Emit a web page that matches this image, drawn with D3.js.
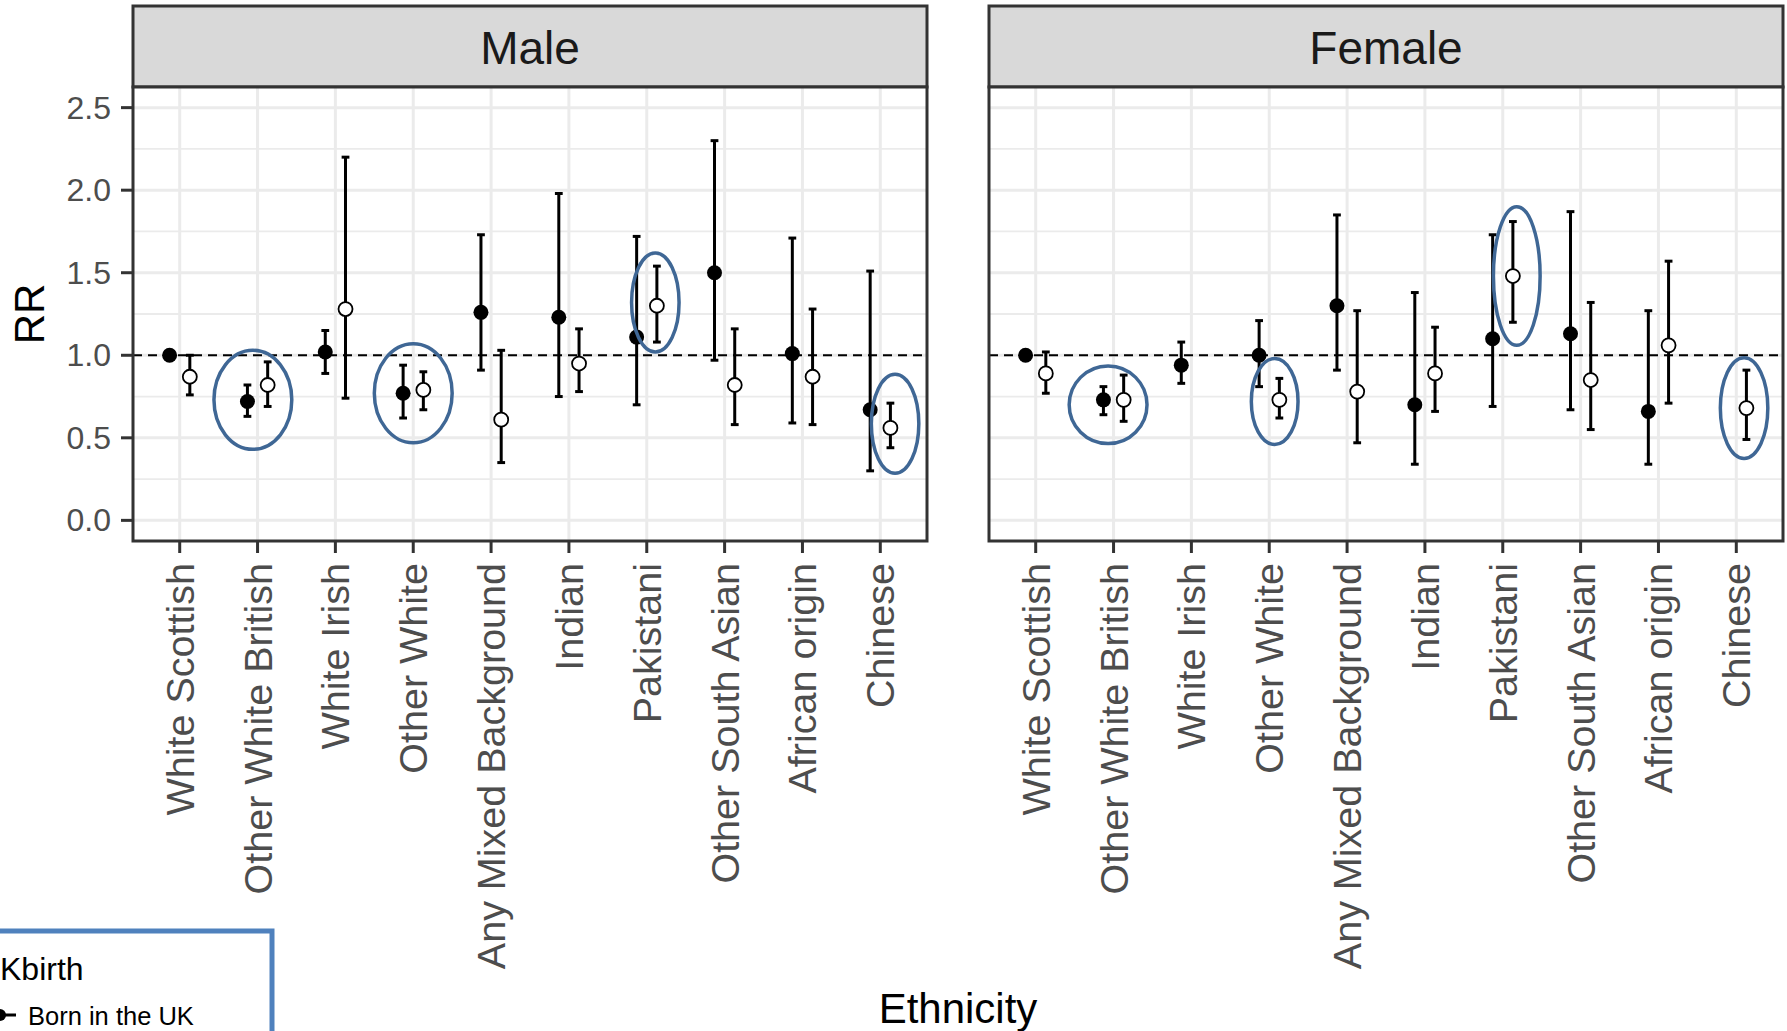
<!DOCTYPE html>
<html>
<head>
<meta charset="utf-8">
<script src="https://cdn.jsdelivr.net/npm/d3@7"></script>
<style>
  body { margin: 0; background: #fff; }
  text { font-family: "Liberation Sans", Arial, sans-serif; }
</style>
</head>
<body>
<svg width="1787" height="1031"></svg>
<script>
// categories on the x axis (same in both panels)
var categories = ["White Scottish", "Other White British", "White Irish", "Other White",
  "Any Mixed Background", "Indian", "Pakistani", "Other South Asian", "African origin", "Chinese"];
var sexes = ["Male", "Female"];
var yTicks = [0, 0.5, 1, 1.5, 2, 2.5];

// Male, born in the UK (filled)
var maleUkRR = [1.00, 0.72, 1.02, 0.77, 1.26, 1.23, 1.11, 1.50, 1.01, 0.67];
var maleUkLo = [null, 0.63, 0.89, 0.62, 0.91, 0.75, 0.70, 0.97, 0.59, 0.30];
var maleUkHi = [null, 0.82, 1.15, 0.94, 1.73, 1.98, 1.72, 2.30, 1.71, 1.51];
// Male, born outside the UK (open)
var maleNonRR = [0.87, 0.82, 1.28, 0.79, 0.61, 0.95, 1.30, 0.82, 0.87, 0.56];
var maleNonLo = [0.76, 0.69, 0.74, 0.67, 0.35, 0.78, 1.08, 0.58, 0.58, 0.44];
var maleNonHi = [1.00, 0.96, 2.20, 0.90, 1.03, 1.16, 1.54, 1.16, 1.28, 0.71];
// Female, born in the UK (filled)
var femUkRR = [1.00, 0.73, 0.94, 1.00, 1.30, 0.70, 1.10, 1.13, 0.66, null];
var femUkLo = [null, 0.64, 0.83, 0.81, 0.91, 0.34, 0.69, 0.67, 0.34, null];
var femUkHi = [null, 0.81, 1.08, 1.21, 1.85, 1.38, 1.73, 1.87, 1.27, null];
// Female, born outside the UK (open)
var femNonRR = [0.89, 0.73, null, 0.73, 0.78, 0.89, 1.48, 0.85, 1.06, 0.68];
var femNonLo = [0.77, 0.60, null, 0.62, 0.47, 0.66, 1.20, 0.55, 0.71, 0.49];
var femNonHi = [1.02, 0.88, null, 0.86, 1.27, 1.17, 1.81, 1.32, 1.57, 0.91];

// hand-drawn highlight ellipses: panel, category, shift (in steps), centre RR, half-width (steps), half-height (RR)
var highlightSex = ["Male", "Male", "Male", "Male", "Female", "Female", "Female", "Female"];
var highlightCat = ["Other White British", "Other White", "Pakistani", "Chinese",
  "Other White British", "Other White", "Pakistani", "Chinese"];
var highlightShift = [-0.06, 0, 0.11, 0.19, -0.07, 0.07, 0.18, 0.10];
var highlightRR = [0.73, 0.77, 1.32, 0.585, 0.70, 0.72, 1.48, 0.68];
var highlightW = [0.50, 0.50, 0.305, 0.305, 0.50, 0.30, 0.30, 0.305];
var highlightH = [0.30, 0.30, 0.30, 0.30, 0.235, 0.26, 0.42, 0.305];

var series = [
  { sex: "Male", uk: true, rr: maleUkRR, lo: maleUkLo, hi: maleUkHi },
  { sex: "Male", uk: false, rr: maleNonRR, lo: maleNonLo, hi: maleNonHi },
  { sex: "Female", uk: true, rr: femUkRR, lo: femUkLo, hi: femUkHi },
  { sex: "Female", uk: false, rr: femNonRR, lo: femNonLo, hi: femNonHi }
];

var svg = d3.select("svg");

// layout
var panelTop = 87, panelBottom = 541, stripTop = 6;
var panelX = { Male: [133, 927], Female: [989, 1783] };
var dodge = 0.13;   // in steps

var y = d3.scaleLinear()
  .domain([-0.125, 2.625])
  .range([panelBottom, panelTop]);

var xScales = {};
sexes.forEach(function(s) {
  xScales[s] = d3.scalePoint()
    .domain(categories)
    .range(panelX[s])
    .padding(0.6);
});

var grid = "#ebebeb", dark = "#333333", blue = "#3f6795";

sexes.forEach(function(s) {
  var x = xScales[s];
  var x0 = panelX[s][0], x1 = panelX[s][1];
  var g = svg.append("g");

  // strip
  g.append("rect")
    .attr("x", x0).attr("y", stripTop)
    .attr("width", x1 - x0).attr("height", panelTop - stripTop)
    .attr("fill", "#d9d9d9").attr("stroke", dark).attr("stroke-width", 3);
  g.append("text")
    .attr("x", (x0 + x1) / 2).attr("y", 64)
    .attr("text-anchor", "middle")
    .style("font-size", "46px").style("fill", "#1a1a1a")
    .text(s);

  // panel background
  g.append("rect")
    .attr("x", x0).attr("y", panelTop)
    .attr("width", x1 - x0).attr("height", panelBottom - panelTop)
    .attr("fill", "white");

  // minor gridlines
  g.selectAll(".minor")
    .data(d3.range(0.25, 2.5, 0.5))
    .enter().append("line")
      .attr("x1", x0).attr("x2", x1)
      .attr("y1", function(d) { return y(d) }).attr("y2", function(d) { return y(d) })
      .attr("stroke", grid).attr("stroke-width", 1.8);

  // major gridlines
  g.selectAll(".major")
    .data(yTicks)
    .enter().append("line")
      .attr("x1", x0).attr("x2", x1)
      .attr("y1", function(d) { return y(d) }).attr("y2", function(d) { return y(d) })
      .attr("stroke", grid).attr("stroke-width", 3);
  g.selectAll(".vmajor")
    .data(categories)
    .enter().append("line")
      .attr("x1", function(d) { return x(d) }).attr("x2", function(d) { return x(d) })
      .attr("y1", panelTop).attr("y2", panelBottom)
      .attr("stroke", grid).attr("stroke-width", 3);

  // reference line at RR = 1
  g.append("line")
    .attr("x1", x0).attr("x2", x1)
    .attr("y1", y(1)).attr("y2", y(1))
    .attr("stroke", "black").attr("stroke-width", 2)
    .style("stroke-dasharray", "9,6");

  // points and error bars
  series.filter(function(d) { return d.sex === s }).forEach(function(ser) {
    var pts = categories.map(function(c, i) {
      return { cat: c, rr: ser.rr[i], lo: ser.lo[i], hi: ser.hi[i] };
    }).filter(function(d) { return d.rr != null });
    var shift = (ser.uk ? -dodge : dodge) * x.step();
    var cap = 0.05 * x.step();

    var bars = pts.filter(function(d) { return d.lo != null });
    g.selectAll(null).data(bars).enter().append("line")
      .attr("x1", function(d) { return x(d.cat) + shift }).attr("x2", function(d) { return x(d.cat) + shift })
      .attr("y1", function(d) { return y(d.lo) }).attr("y2", function(d) { return y(d.hi) })
      .attr("stroke", "black").attr("stroke-width", 3);
    ["lo", "hi"].forEach(function(k) {
      g.selectAll(null).data(bars).enter().append("line")
        .attr("x1", function(d) { return x(d.cat) + shift - cap }).attr("x2", function(d) { return x(d.cat) + shift + cap })
        .attr("y1", function(d) { return y(d[k]) }).attr("y2", function(d) { return y(d[k]) })
        .attr("stroke", "black").attr("stroke-width", 3);
    });

    g.selectAll(null).data(pts).enter().append("circle")
      .attr("cx", function(d) { return x(d.cat) + shift })
      .attr("cy", function(d) { return y(d.rr) })
      .attr("r", ser.uk ? 7.5 : 7)
      .attr("fill", ser.uk ? "black" : "white")
      .attr("stroke", "black")
      .attr("stroke-width", ser.uk ? 0 : 1.8);
  });

  // panel border
  g.append("rect")
    .attr("x", x0).attr("y", panelTop)
    .attr("width", x1 - x0).attr("height", panelBottom - panelTop)
    .attr("fill", "none").attr("stroke", dark).attr("stroke-width", 3);

  // x ticks + labels
  g.selectAll(null).data(categories).enter().append("line")
    .attr("x1", function(d) { return x(d) }).attr("x2", function(d) { return x(d) })
    .attr("y1", panelBottom).attr("y2", panelBottom + 12)
    .attr("stroke", dark).attr("stroke-width", 3);
  g.selectAll(null).data(categories).enter().append("text")
    .attr("transform", function(d) { return "translate(" + x(d) + "," + (panelBottom + 22) + ") rotate(-90)" })
    .attr("text-anchor", "end")
    .attr("dominant-baseline", "central")
    .style("font-size", "39.5px").style("fill", "#4d4d4d")
    .text(function(d) { return d });
});

// highlight ellipses
highlightSex.forEach(function(s, i) {
  var x = xScales[s];
  svg.append("ellipse")
    .attr("cx", x(highlightCat[i]) + highlightShift[i] * x.step())
    .attr("cy", y(highlightRR[i]))
    .attr("rx", highlightW[i] * x.step())
    .attr("ry", y(0) - y(highlightH[i]))
    .attr("fill", "none").attr("stroke", blue).attr("stroke-width", 3.5);
});

// y axis (left panel only)
var yAxis = svg.append("g");
yAxis.selectAll(null).data(yTicks).enter().append("line")
  .attr("x1", 121).attr("x2", 133)
  .attr("y1", function(d) { return y(d) }).attr("y2", function(d) { return y(d) })
  .attr("stroke", dark).attr("stroke-width", 3);
yAxis.selectAll(null).data(yTicks).enter().append("text")
  .attr("x", 111).attr("y", function(d) { return y(d) })
  .attr("text-anchor", "end").attr("dominant-baseline", "central")
  .style("font-size", "32px").style("fill", "#4d4d4d")
  .text(function(d) { return d3.format(".1f")(d) });

// axis titles
svg.append("text")
  .attr("transform", "translate(44," + ((panelTop + panelBottom) / 2) + ") rotate(-90)")
  .attr("text-anchor", "middle")
  .style("font-size", "42px").style("fill", "black")
  .text("RR");
svg.append("text")
  .attr("x", (133 + 1783) / 2).attr("y", 1023)
  .attr("text-anchor", "middle")
  .style("font-size", "42px").style("fill", "black")
  .text("Ethnicity");

// legend (cropped at the bottom-left corner)
var leg = svg.append("g");
leg.append("rect")
  .attr("x", -10).attr("y", 931)
  .attr("width", 282).attr("height", 200)
  .attr("fill", "white").attr("stroke", "#4f81bd").attr("stroke-width", 5);
leg.append("text")
  .attr("x", 0).attr("y", 980)
  .style("font-size", "32px").style("fill", "black")
  .text("Kbirth");
leg.append("line")
  .attr("x1", 0).attr("x2", 16).attr("y1", 1015).attr("y2", 1015)
  .attr("stroke", "black").attr("stroke-width", 3);
leg.append("circle")
  .attr("cx", 0).attr("cy", 1015).attr("r", 6)
  .attr("fill", "black");
leg.append("text")
  .attr("x", 28).attr("y", 1025)
  .style("font-size", "25.5px").style("fill", "black")
  .text("Born in the UK");
</script>
</body>
</html>
